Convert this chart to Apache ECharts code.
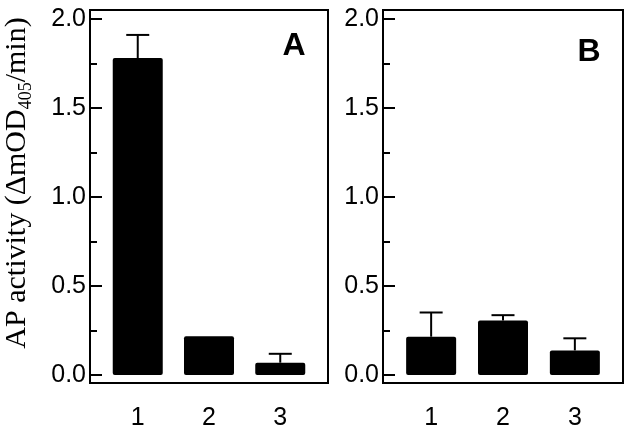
<!DOCTYPE html>
<html><head><meta charset="utf-8">
<script src="https://cdn.jsdelivr.net/npm/echarts@6/dist/echarts.min.js"></script>
<style>html,body{margin:0;padding:0;background:#fff}#c{width:629px;height:431px}</style>
</head><body><div id="c"></div>
<script>
const categories = [1, 2, 3];
const valuesA = [1.78, 0.218, 0.069];
const errorsA = [0.13, 0, 0.05];
const valuesB = [0.215, 0.306, 0.138];
const errorsB = [0.136, 0.03, 0.068];
const yTicks = [0, 0.5, 1.0, 1.5, 2.0];
const yMinorTicks = [0.25, 0.75, 1.25, 1.75];
const panelLabels = ['A', 'B'];

const chart = echarts.init(document.getElementById('c'), null, {renderer: 'canvas'});
const font = 'Liberation Sans, Arial, sans-serif';

function xAxis(i) {
  return {
    type: 'value', gridIndex: i, min: 0.33, max: 3.67,
    axisLine: {show: false}, axisTick: {show: false}, splitLine: {show: false},
    axisLabel: {customValues: categories, color: '#000', fontFamily: font, fontSize: 25, margin: 23,
      formatter: v => String(v)}
  };
}
function yAxes(i) {
  return [{
    type: 'value', gridIndex: i, position: 'left', min: -0.045, max: 2.05,
    axisLine: {show: false}, splitLine: {show: false},
    axisTick: {show: true, inside: true, length: 12, customValues: yTicks, lineStyle: {color: '#000', width: 2}},
    axisLabel: {customValues: yTicks, color: '#000', fontFamily: font, fontSize: 25, margin: 4,
      formatter: v => v.toFixed(1)}
  }, {
    type: 'value', gridIndex: i, position: 'left', min: -0.045, max: 2.05,
    axisLine: {show: false}, splitLine: {show: false},
    axisTick: {show: true, inside: true, length: 7, customValues: yMinorTicks, lineStyle: {color: '#000', width: 2}},
    axisLabel: {show: false}
  }];
}
function barSeries(i, vals) {
  return {
    type: 'bar', xAxisIndex: i, yAxisIndex: i * 2, barWidth: 50,
    itemStyle: {color: '#000', borderRadius: 2},
    data: categories.map((c, k) => [c, vals[k]]),
    silent: true, z: 2
  };
}
function errSeries(i, vals, errs) {
  return {
    type: 'custom', xAxisIndex: i, yAxisIndex: i * 2, z: 3, silent: true,
    data: categories.map((c, k) => [c, vals[k], vals[k] + errs[k]]),
    renderItem: function (params, api) {
      const lo = api.coord([api.value(0), api.value(1)]);
      const hi = api.coord([api.value(0), api.value(2)]);
      if (api.value(2) - api.value(1) <= 0) return null;
      const s = {stroke: '#000', lineWidth: 2};
      return {type: 'group', children: [
        {type: 'line', shape: {x1: lo[0], y1: lo[1], x2: hi[0], y2: hi[1]}, style: s},
        {type: 'line', shape: {x1: hi[0] - 11.5, y1: hi[1], x2: hi[0] + 11.5, y2: hi[1]}, style: s}
      ]};
    }
  };
}

chart.setOption({
  animation: false,
  backgroundColor: '#fff',
  grid: [
    {left: 90, top: 10, width: 238, height: 374, show: true, borderColor: '#000', borderWidth: 2, backgroundColor: 'transparent'},
    {left: 383, top: 10, width: 240, height: 374, show: true, borderColor: '#000', borderWidth: 2, backgroundColor: 'transparent'}
  ],
  xAxis: [xAxis(0), xAxis(1)],
  yAxis: [...yAxes(0), ...yAxes(1)],
  series: [
    barSeries(0, valuesA), errSeries(0, valuesA, errorsA),
    barSeries(1, valuesB), errSeries(1, valuesB, errorsB)
  ],
  graphic: [
    {type: 'text', x: 294, y: 46, style: {text: panelLabels[0], font: 'bold 32px ' + font, fill: '#000', align: 'center', verticalAlign: 'middle'}},
    {type: 'text', x: 589, y: 52, style: {text: panelLabels[1], font: 'bold 32px ' + font, fill: '#000', align: 'center', verticalAlign: 'middle'}},
    {type: 'text', x: 17, y: 183, rotation: Math.PI / 2,
      style: {text: '{n|AP activity (ΔmOD}{s|405}{n|/min)}', align: 'center', verticalAlign: 'middle', fill: '#000',
        rich: {
          n: {fontFamily: 'Liberation Serif', fontSize: 30, lineHeight: 36, fill: '#000'},
          s: {fontFamily: 'Liberation Serif', fontSize: 18, lineHeight: 18, verticalAlign: 'bottom', fill: '#000'}
        }}}
  ]
});
</script></body></html>
